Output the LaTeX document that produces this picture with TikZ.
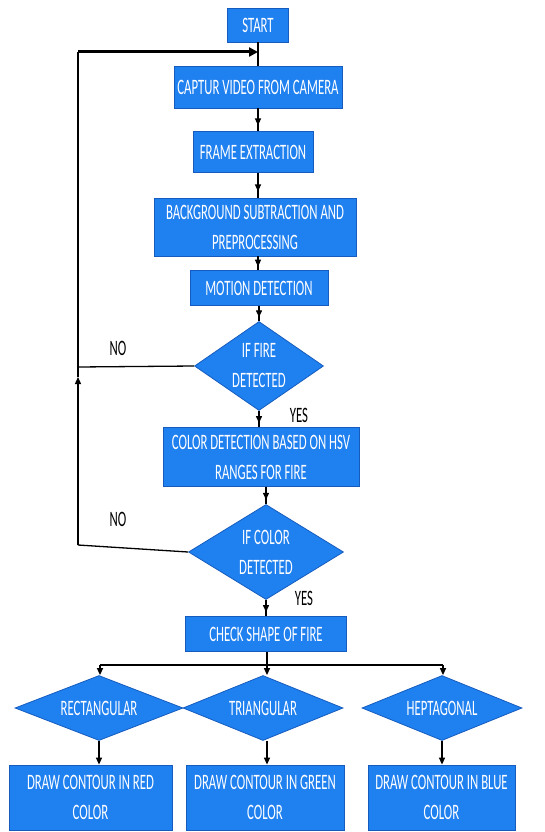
\documentclass[tikz,border=0pt]{standalone}
\usepackage{fontspec}
\setmainfont{Carlito}[FakeStretch=0.58]
\usetikzlibrary{shapes.geometric,arrows.meta,decorations.markings}
\definecolor{boxblue}{RGB}{31,128,240}
\definecolor{edgeblue}{RGB}{22,92,190}
\begin{document}
\begin{tikzpicture}[x=1pt,y=-1pt,
  font=\fontsize{22}{30}\selectfont,
  box/.style={draw=edgeblue, fill=boxblue, text=white, line width=0.8pt, align=center, inner sep=0pt},
  dia/.style={diamond, draw=edgeblue, fill=boxblue, text=white, line width=0.8pt, align=center, inner sep=0pt},
  conn/.style={line width=1.3pt},
  endarr/.style={line width=1.3pt, -{Triangle[length=7pt,width=6pt]}},
  midarr/.style={line width=1.3pt, postaction={decorate},
    decoration={markings, mark=at position 0.75 with {\arrow{Triangle[length=7pt,width=6pt]}}}},
  lbl/.style={text=black, inner sep=0pt}]
\useasboundingbox (0,0) rectangle (544,832);
\fill[white] (0,0) rectangle (544,832);

% main chain
\node[box, minimum width=61pt, minimum height=34pt] (start) at (258,25) {START};
\node[box, minimum width=168pt, minimum height=42pt] (capture) at (258,87) {CAPTUR VIDEO FROM CAMERA};
\node[box, minimum width=120pt, minimum height=41pt] (frame) at (253,152) {FRAME EXTRACTION};
\node[box, minimum width=202pt, minimum height=58pt] (bg) at (255,227) {BACKGROUND SUBTRACTION AND\\PREPROCESSING};
\node[box, minimum width=138pt, minimum height=35pt] (motion) at (259,288) {MOTION DETECTION};
\node[dia, shape aspect=1.45, minimum width=129pt, minimum height=89pt] (fire) at (259,366) {IF FIRE\\DETECTED};
\node[box, minimum width=196pt, minimum height=59pt] (color) at (261,457) {COLOR DETECTION BASED ON HSV\\RANGES FOR FIRE};
\node[dia, shape aspect=1.6, minimum width=155pt, minimum height=95pt] (colord) at (266,552) {IF COLOR\\DETECTED};
\node[box, minimum width=161pt, minimum height=35pt] (shape) at (266,634) {CHECK SHAPE OF FIRE};

% shape branches
\node[dia, shape aspect=2.6, minimum width=168pt, minimum height=65pt] (rect) at (99,708) {RECTANGULAR};
\node[dia, shape aspect=2.4, minimum width=160pt, minimum height=65pt] (tri) at (263,708) {TRIANGULAR};
\node[dia, shape aspect=2.5, minimum width=160pt, minimum height=65pt] (hept) at (442,708) {HEPTAGONAL};
\node[box, minimum width=163pt, minimum height=65pt] (red) at (90.5,797.5) {DRAW CONTOUR IN RED\\COLOR};
\node[box, minimum width=158pt, minimum height=65pt] (green) at (265,797.5) {DRAW CONTOUR IN GREEN\\COLOR};
\node[box, minimum width=147pt, minimum height=65pt] (blue) at (441.5,797.5) {DRAW CONTOUR IN BLUE\\COLOR};

% labels
\node[lbl] (no1) at (118,348) {NO};
\node[lbl] (yes1) at (299,415) {YES};
\node[lbl] (no2) at (118,519) {NO};
\node[lbl] (yes2) at (304,598) {YES};

% chain connectors
\draw[conn] (start.south) -- (start.south |- capture.north);
\draw[midarr] (capture.south) -- (capture.south |- frame.north);
\draw[midarr] (frame.south -| capture.south) -- (capture.south |- bg.north);
\draw[midarr] (bg.south -| capture.south) -- (capture.south |- motion.north);
\draw[midarr] (motion.south -| fire.north) -- (fire.north);
\draw[midarr] (fire.south) -- (fire.south |- color.north);
\draw[midarr] (color.south -| colord.north) -- (colord.north);
\draw[midarr] (colord.south) -- (colord.south |- shape.north);

% loop back
\coordinate (ltop) at (78,52);
\coordinate (ttop) at (258,52);
\coordinate (jfire) at (78,367);
\coordinate (jup) at (78,377);
\coordinate (jcol) at (78,545);
\draw[conn] (colord.west) -- (jcol);
\draw[endarr] (jcol) -- (jup);
\draw[conn] (jup) -- (jfire);
\draw[conn] (fire.west) -- (jfire);
\draw[conn] (jfire) -- (ltop);
\draw[line width=3pt, -{Triangle[length=9pt,width=9pt]}] (ltop) -- (ttop);

% branch
\coordinate (br) at (267,665);
\coordinate (bl) at (100,665);
\coordinate (bR) at (443,665);
\draw[conn] (shape.south -| br) -- (br);
\draw[conn] (bl) -- (bR);
\draw[endarr] (bl) -- (bl |- rect.north);
\draw[endarr] (br) -- (br |- tri.north);
\draw[endarr] (bR) -- (bR |- hept.north);
\draw[endarr] (rect.south) -- (rect.south |- red.north);
\draw[endarr] (tri.south -| br) -- (br |- green.north);
\draw[endarr] (hept.south) -- (hept.south |- blue.north);
\end{tikzpicture}
\end{document}
